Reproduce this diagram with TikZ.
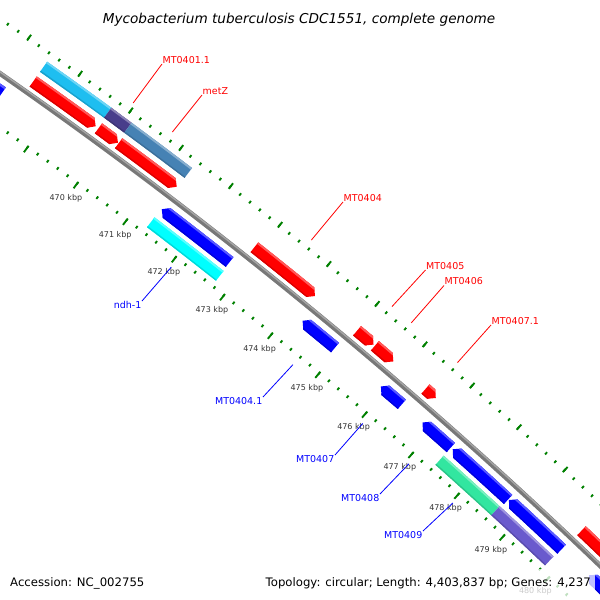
\documentclass[tikz,border=0pt]{standalone}
\usepackage{fontspec}
\setmainfont{DejaVu Sans}

\definecolor{fwdred}{RGB}{255,0,0}
\definecolor{revblue}{RGB}{0,0,255}
\definecolor{skyfeat}{RGB}{30,190,240}
\definecolor{slatefeat}{RGB}{72,61,139}
\definecolor{steelfeat}{RGB}{70,130,180}
\definecolor{cyanfeat}{RGB}{0,255,255}
\definecolor{greenfeat}{RGB}{50,230,160}
\definecolor{purplefeat}{RGB}{106,90,205}
\definecolor{tickgreen}{RGB}{0,128,0}
\definecolor{labgray}{RGB}{51,51,51}

% #1 start angle, #2 end angle, #3 radius, #4 colour
\newcommand{\genebands}[4]{%
  \fill[#4] ({#1+0.2}:{#3+7}) arc[start angle={#1+0.2}, end angle={#2-0.2}, radius={#3+7}]
    -- ({#2-0.2}:{#3-7}) arc[start angle={#2-0.2}, end angle={#1+0.2}, radius={#3-7}] -- cycle;
  \draw[#4!65!white, line width=2.2] ({#1+0.2}:{#3+5.3})
    arc[start angle={#1+0.2}, end angle={#2-0.2}, radius={#3+5.3}];
  \draw[#4!85!black, line width=1.4] ({#1+0.2}:{#3-5.6})
    arc[start angle={#1+0.2}, end angle={#2-0.2}, radius={#3-5.6}];}
\newcommand{\fwdgene}[4]{%
  \begin{scope}
    \clip ({#1}:{#3+6.2}) arc[start angle={#1}, end angle={#2+0.07}, radius={#3+6.2}]
      -- ({#2}:{#3}) -- ({#2+0.07}:{#3-6.2})
      arc[start angle={#2+0.07}, end angle={#1}, radius={#3-6.2}] -- cycle;
    \genebands{#1}{#2}{#3}{#4}
  \end{scope}}
\newcommand{\revgene}[4]{%
  \begin{scope}
    \clip ({#1}:{#3}) -- ({#1-0.07}:{#3+6.2})
      arc[start angle={#1-0.07}, end angle={#2}, radius={#3+6.2}]
      -- ({#2}:{#3-6.2}) arc[start angle={#2}, end angle={#1-0.07}, radius={#3-6.2}] -- cycle;
    \genebands{#1}{#2}{#3}{#4}
  \end{scope}}
\newcommand{\boxgene}[4]{%
  \begin{scope}
    \clip ({#1}:{#3+6.2}) arc[start angle={#1}, end angle={#2}, radius={#3+6.2}]
      -- ({#2}:{#3-6.2}) arc[start angle={#2}, end angle={#1}, radius={#3-6.2}] -- cycle;
    \genebands{#1}{#2}{#3}{#4}
  \end{scope}}

\begin{document}
\begin{tikzpicture}
    [x=1pt,y=1pt,
     backbone/.style={draw={rgb,255:red,120;green,120;blue,120}, line width=5},
     backlight/.style={draw={rgb,255:red,165;green,165;blue,165}, line width=1.4},
     tickmark/.style={tickgreen, line width=1.9},
     kbplabel/.style={font=\fontsize{8}{9}\selectfont, text=labgray, inner sep=0pt},
     fwdlabel/.style={font=\fontsize{9.5}{11}\selectfont, text=fwdred, inner sep=0.5pt, anchor=south west},
     revlabel/.style={font=\fontsize{9.5}{11}\selectfont, text=revblue, inner sep=0.5pt, anchor=north east},
     fwdleader/.style={draw=fwdred, line width=0.8},
     revleader/.style={draw=revblue, line width=0.8},
     legendtext/.style={font=\fontsize{11.7}{14}\selectfont, inner sep=0pt}]
    \useasboundingbox (0,-600) rectangle (600,0);
    \clip (0,-600) rectangle (600,0);

    \begin{scope}[shift={(-2822,-4126)}]
      % ticks
      \foreach \n in {0,...,80} {
        \pgfmathsetmacro{\ta}{56.55-0.144*\n}
        \draw[tickmark] (\ta:4982) -- (\ta:4985) (\ta:4893) -- (\ta:4896);
      }
      \foreach \k in {466,...,482} {
        \pgfmathsetmacro{\ta}{53.67-0.72*(\k-470)}
        \draw[tickmark] (\ta:4981) -- (\ta:4988) (\ta:4888) -- (\ta:4895);
      }
      \foreach \k in {470,...,480}
        \node[kbplabel] (kbp\k) at ({53.67-0.72*(\k-470)}:4875) {\k\ kbp};

      % backbone
      \draw[backbone] (56.3:4938.5) arc[start angle=56.3, end angle=45.3, radius=4938.5];
      \draw[backlight] (56.3:4939.8) arc[start angle=56.3, end angle=45.3, radius=4939.8];

      % outer slots
      \boxgene{54.78}{53.87}{4969}{skyfeat}
      \boxgene{53.87}{53.58}{4969}{slatefeat}
      \boxgene{53.58}{52.71}{4969}{steelfeat}
      \fwdgene{54.78}{53.89}{4951}{fwdred}
      \fwdgene{53.85}{53.57}{4951}{fwdred}
      \fwdgene{53.56}{52.72}{4951}{fwdred}
      \fwdgene{51.58}{50.68}{4951}{fwdred}
      \fwdgene{50.05}{49.80}{4951}{fwdred}
      \fwdgene{49.78}{49.50}{4951}{fwdred}
      \fwdgene{49.01}{48.85}{4951}{fwdred}
      \fwdgene{46.57}{45.60}{4951}{fwdred}

      % inner slots
      \revgene{55.60}{55.00}{4924}{revblue}
      \revgene{52.70}{51.70}{4924}{revblue}
      \revgene{50.61}{50.12}{4924}{revblue}
      \revgene{49.42}{49.10}{4924}{revblue}
      \revgene{48.78}{48.34}{4924}{revblue}
      \revgene{48.31}{47.44}{4924}{revblue}
      \revgene{47.43}{46.59}{4924}{revblue}
      \revgene{46.15}{45.40}{4924}{revblue}
      \boxgene{52.71}{51.69}{4907}{cyanfeat}
      \boxgene{48.34}{47.46}{4907}{greenfeat}
      \boxgene{47.46}{46.60}{4907}{purplefeat}

      % leader ends
      \coordinate (ft0401) at (53.70:4992);
      \coordinate (ftmetZ) at (53.14:4992);
      \coordinate (ft0404) at (51.12:4992);
      \coordinate (ft0405) at (49.92:4992);
      \coordinate (ft0406) at (49.63:4992);
      \coordinate (ft0407a) at (48.93:4992);
      \coordinate (ftndh) at (52.20:4884);
      \coordinate (ft0404a) at (50.37:4884);
      \coordinate (ft0407) at (49.30:4884);
      \coordinate (ft0408) at (48.58:4884);
      \coordinate (ft0409) at (47.89:4884);
    \end{scope}

    \node[fwdlabel] (lab0401) at (162,-64) {MT0401.1};
    \node[fwdlabel] (labmetZ) at (202,-95) {metZ};
    \node[fwdlabel] (lab0404) at (343,-202) {MT0404};
    \node[fwdlabel] (lab0405) at (425.5,-270) {MT0405};
    \node[fwdlabel] (lab0406) at (444,-285.5) {MT0406};
    \node[fwdlabel] (lab0407a) at (491,-325) {MT0407.1};
    \node[revlabel] (labndh) at (142,-301) {ndh-1};
    \node[revlabel] (lab0404a) at (263,-397) {MT0404.1};
    \node[revlabel] (lab0407) at (335,-455) {MT0407};
    \node[revlabel] (lab0408) at (380,-494) {MT0408};
    \node[revlabel] (lab0409) at (423,-531) {MT0409};

    \draw[fwdleader] (lab0401.south west) -- (ft0401);
    \draw[fwdleader] (labmetZ.south west) -- (ftmetZ);
    \draw[fwdleader] (lab0404.south west) -- (ft0404);
    \draw[fwdleader] (lab0405.south west) -- (ft0405);
    \draw[fwdleader] (lab0406.south west) -- (ft0406);
    \draw[fwdleader] (lab0407a.south west) -- (ft0407a);
    \draw[revleader] (labndh.north east) -- (ftndh);
    \draw[revleader] (lab0404a.north east) -- (ft0404a);
    \draw[revleader] (lab0407.north east) -- (ft0407);
    \draw[revleader] (lab0408.north east) -- (ft0408);
    \draw[revleader] (lab0409.north east) -- (ft0409);

    \node[font=\fontsize{13.6}{16}\selectfont\itshape, anchor=base] (title) at (299,-23)
      {Mycobacterium tuberculosis CDC1551, complete genome};
    \node[legendtext, anchor=base west] (accession) at (10,-586) {Accession: NC\_002755};
    \node[legendtext, anchor=base east, fill=white, fill opacity=0.75, text opacity=1,
          inner xsep=4pt, inner ysep=8pt] (topology) at (595,-586)
      {Topology: circular; Length: 4,403,837 bp; Genes: 4,237};
\end{tikzpicture}
\end{document}
